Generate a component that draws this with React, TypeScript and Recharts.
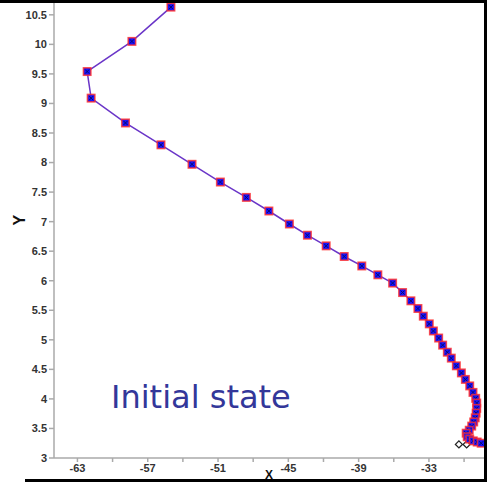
import { ScatterChart, Scatter, XAxis, YAxis } from "recharts";

// trajectory
const xVals = [
	-55.02, -58.35, -62.17, -61.83, -58.9, -55.87, -53.22, -50.8, -48.58, -46.66,
	-44.91, -43.37, -41.77, -40.23, -38.73, -37.36, -36.1, -35.25, -34.54, -33.94,
	-33.48, -32.97, -32.62, -32.17, -31.83, -31.43, -31.09, -30.66, -30.23, -29.89,
	-29.52, -29.24, -29.01, -28.92, -28.92, -28.97, -29.05, -29.18, -29.35, -29.56,
	-29.82, -29.73, -29.52, -29.22, -28.88, -28.54,
];
const yVals = [
	10.63, 10.05, 9.54, 9.09, 8.67, 8.3, 7.97, 7.67, 7.41, 7.18,
	6.96, 6.77, 6.59, 6.41, 6.25, 6.1, 5.96, 5.8, 5.66, 5.53,
	5.4, 5.27, 5.15, 5.03, 4.91, 4.79, 4.69, 4.56, 4.44, 4.33,
	4.22, 4.11, 4.01, 3.93, 3.84, 3.76, 3.68, 3.61, 3.54, 3.47,
	3.42, 3.36, 3.32, 3.29, 3.27, 3.25,
];
const anchorX = [-30.44, -29.78];
const anchorY = [3.23, 3.23];

const xTicks = [-63, -60, -57, -54, -51, -48, -45, -42, -39, -36, -33, -30];
const yTicks = [3, 3.5, 4, 4.5, 5, 5.5, 6, 6.5, 7, 7.5, 8, 8.5, 9, 9.5, 10, 10.5];

const path = xVals.map((x, i) => ({ x, y: yVals[i] }));
const anchors = anchorX.map((x, i) => ({ x, y: anchorY[i] }));

const SquareX = (props: any) => {
	const { cx, cy } = props;
	if (cx == null || cy == null) return null;
	const s = 3.7;
	return (
		<g>
			<rect
				x={cx - s}
				y={cy - s}
				width={s * 2}
				height={s * 2}
				fill="#1414ff"
				stroke="#ff2a2a"
				strokeWidth={1.6}
				strokeOpacity={0.8}
			/>
			<path
				d={`M${cx - 2},${cy - 2}L${cx + 2},${cy + 2}M${cx - 2},${cy + 2}L${cx + 2},${cy - 2}`}
				stroke="#0a0a70"
				strokeWidth={1}
			/>
		</g>
	);
};

const Diamond = (props: any) => {
	const { cx, cy } = props;
	if (cx == null || cy == null) return null;
	const r = 3.5;
	return (
		<path
			d={`M${cx},${cy - r}L${cx + r},${cy}L${cx},${cy + r}L${cx - r},${cy}Z`}
			fill="#fff"
			stroke="#222"
			strokeWidth={1.3}
		/>
	);
};

const font = "Liberation Sans, Arial, sans-serif";

const tickStyle = {
	fontSize: 11,
	fontWeight: "bold" as const,
	fill: "#333",
	fontFamily: font,
};

export default function App() {
	return (
		<div
			style={{
				position: "absolute",
				left: 0,
				top: 0,
				width: 487,
				height: 482,
				background: "#fff",
				overflow: "hidden",
			}}
		>
			<ScatterChart
				width={487}
				height={482}
				margin={{ top: 3, right: 3, bottom: 0, left: 0 }}
			>
				<XAxis
					type="number"
					dataKey="x"
					domain={[-65, -28.3]}
					allowDataOverflow
					ticks={xTicks}
					interval={0}
					tickFormatter={(v: number) => ((v + 63) % 6 === 0 ? String(v) : "")}
					height={24}
					stroke="#aaa"
					strokeWidth={1.5}
					tickSize={4}
					tick={tickStyle}
					label={{
						value: "X",
						position: "insideBottom",
						offset: 3,
						style: { fontSize: 12, fontWeight: "bold", fill: "#111", fontFamily: font },
					}}
				/>
				<YAxis
					type="number"
					dataKey="y"
					domain={[3, 10.7]}
					allowDataOverflow
					ticks={yTicks}
					interval={0}
					width={54}
					stroke="#aaa"
					strokeWidth={1.5}
					tickSize={5}
					tickMargin={2}
					tick={tickStyle}
					label={{
						value: "Y",
						angle: -90,
						position: "insideLeft",
						offset: 19,
						dy: -5,
						style: { fontSize: 16, fontWeight: "bold", fill: "#111", fontFamily: font },
					}}
				/>
				<Scatter
					data={anchors}
					shape={Diamond}
					isAnimationActive={false}
				/>
				<Scatter
					data={path}
					shape={SquareX}
					line={{ stroke: "#6a35c8", strokeWidth: 1.5 }}
					isAnimationActive={false}
				/>
			</ScatterChart>
			<div
				style={{
					position: "absolute",
					left: 111,
					top: 377,
					fontSize: 32,
					lineHeight: "40px",
					color: "#33379a",
					fontFamily: "DejaVu Sans, sans-serif",
					whiteSpace: "nowrap",
				}}
			>
				Initial state
			</div>
			<div style={{ position: "absolute", left: 0, top: 0, width: 487, height: 3, background: "#000" }} />
			<div style={{ position: "absolute", right: 0, top: 0, width: 3, height: 482, background: "#000" }} />
			<div style={{ position: "absolute", left: 25, bottom: 0, width: 462, height: 3, background: "#000" }} />
		</div>
	);
}
